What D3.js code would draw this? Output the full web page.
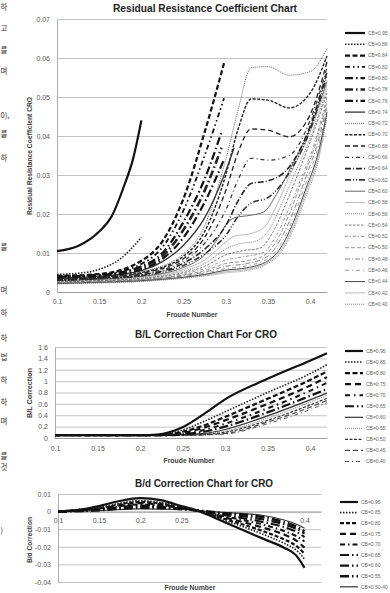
<!DOCTYPE html>
<html>
<head>
<meta charset="utf-8">
<script src="https://cdn.jsdelivr.net/npm/d3@7/dist/d3.min.js"></script>
<style>
  body { margin: 0; background: #fff; }
  svg { display: block; font-family: "Liberation Sans", Arial, sans-serif; }
</style>
</head>
<body>
<svg id="charts" width="390" height="593"></svg>
<script>
// ---------- Residual resistance coefficient (CRO) ----------
let rrcXTicks = [0.1, 0.15, 0.2, 0.25, 0.3, 0.35, 0.4]
let rrcYTicks = [0, 0.01, 0.02, 0.03, 0.04, 0.05, 0.06, 0.07]
let rrcLabels = ["CB=0.95", "CB=0.86", "CB=0.84", "CB=0.82", "CB=0.80", "CB=0.78", "CB=0.76", "CB=0.74",
  "CB=0.72", "CB=0.70", "CB=0.68", "CB=0.66", "CB=0.64", "CB=0.62", "CB=0.60", "CB=0.58", "CB=0.56",
  "CB=0.54", "CB=0.52", "CB=0.50", "CB=0.48", "CB=0.46", "CB=0.44", "CB=0.42", "CB=0.40"]

let rrc095 = [[0.1,0.0105],[0.125,0.0118],[0.15,0.0155],[0.165,0.0195],[0.18,0.0275],[0.19,0.034],[0.2,0.044]]
let rrc086 = [[0.1,0.0045],[0.125,0.0048],[0.15,0.0058],[0.175,0.0085],[0.2,0.014]]
let rrc084 = [[0.1,0.0041],[0.15,0.0046],[0.2,0.008],[0.225,0.013],[0.25,0.024],[0.275,0.041],[0.298,0.0587]]
let rrc082 = [[0.1,0.004],[0.15,0.0044],[0.2,0.0072],[0.225,0.0115],[0.25,0.021],[0.275,0.035],[0.298,0.0497]]
let rrc080 = [[0.1,0.0039],[0.15,0.0043],[0.2,0.0066],[0.225,0.010],[0.25,0.018],[0.275,0.029],[0.295,0.041]]
let rrc078 = [[0.1,0.0038],[0.15,0.0042],[0.2,0.0062],[0.225,0.0092],[0.25,0.016],[0.275,0.026],[0.295,0.037]]
let rrc076 = [[0.1,0.0037],[0.15,0.0041],[0.2,0.0058],[0.225,0.0085],[0.25,0.014],[0.275,0.023],[0.298,0.034]]
let rrc074 = [[0.1,0.0036],[0.15,0.004],[0.2,0.0055],[0.225,0.0078],[0.25,0.012],[0.275,0.019],[0.3,0.031],[0.31,0.037]]
let rrc072 = [[0.1,0.0035],[0.15,0.0039],[0.2,0.0052],[0.25,0.0098],[0.275,0.017],[0.3,0.034],[0.315,0.047],[0.33,0.0575],[0.35,0.0578],[0.375,0.0556],[0.4,0.0565],[0.42,0.0625]]
let rrc070 = [[0.1,0.0034],[0.15,0.0038],[0.2,0.005],[0.25,0.0092],[0.275,0.0155],[0.3,0.030],[0.315,0.042],[0.33,0.0495],[0.35,0.0492],[0.375,0.0472],[0.4,0.051],[0.42,0.0605]]
let rrc068 = [[0.1,0.0033],[0.15,0.0037],[0.2,0.0048],[0.25,0.0086],[0.275,0.014],[0.3,0.026],[0.315,0.036],[0.33,0.0418],[0.35,0.0415],[0.375,0.0398],[0.4,0.0455],[0.42,0.059]]
let rrc066 = [[0.1,0.0032],[0.15,0.0036],[0.2,0.0046],[0.25,0.008],[0.275,0.0125],[0.3,0.021],[0.315,0.029],[0.33,0.0343],[0.35,0.0338],[0.375,0.035],[0.4,0.044],[0.42,0.0575]]
let rrc064 = [[0.1,0.0031],[0.15,0.0035],[0.2,0.0044],[0.25,0.0074],[0.275,0.011],[0.3,0.017],[0.315,0.0235],[0.33,0.0278],[0.35,0.0285],[0.375,0.032],[0.4,0.0425],[0.42,0.0565]]
let rrc062 = [[0.1,0.003],[0.15,0.0034],[0.2,0.0042],[0.25,0.0068],[0.275,0.0098],[0.3,0.0145],[0.315,0.0195],[0.33,0.0228],[0.35,0.0242],[0.375,0.0305],[0.4,0.0415],[0.42,0.0555]]
let rrc060 = [[0.1,0.0029],[0.15,0.0033],[0.2,0.004],[0.25,0.0063],[0.275,0.0095],[0.29,0.0135],[0.3,0.0172],[0.31,0.019],[0.33,0.0197],[0.345,0.0205],[0.36,0.025],[0.375,0.031],[0.4,0.042],[0.42,0.054]]
let rrc058 = [[0.1,0.0028],[0.15,0.0032],[0.2,0.0038],[0.25,0.0058],[0.275,0.0082],[0.3,0.0128],[0.31,0.0143],[0.33,0.015],[0.345,0.0165],[0.36,0.022],[0.375,0.0295],[0.4,0.041],[0.42,0.053]]
let rrc056 = [[0.1,0.0027],[0.15,0.0031],[0.2,0.0036],[0.25,0.0054],[0.275,0.0073],[0.3,0.011],[0.315,0.0123],[0.335,0.013],[0.35,0.0155],[0.365,0.022],[0.38,0.0295],[0.4,0.0395],[0.42,0.052]]
let rrc054 = [[0.1,0.0026],[0.15,0.003],[0.2,0.0035],[0.25,0.005],[0.275,0.0066],[0.3,0.0095],[0.32,0.0106],[0.34,0.0112],[0.355,0.015],[0.37,0.022],[0.385,0.030],[0.4,0.0385],[0.42,0.051]]
let rrc052 = [[0.1,0.0025],[0.15,0.0029],[0.2,0.0033],[0.25,0.0047],[0.275,0.006],[0.3,0.0082],[0.32,0.009],[0.345,0.0102],[0.36,0.0145],[0.375,0.0215],[0.39,0.0295],[0.405,0.038],[0.42,0.050]]
let rrc050 = [[0.1,0.0024],[0.15,0.0028],[0.2,0.0032],[0.25,0.0044],[0.275,0.0055],[0.3,0.0073],[0.325,0.008],[0.345,0.0093],[0.36,0.013],[0.375,0.0198],[0.39,0.0285],[0.405,0.037],[0.42,0.049]]
let rrc048 = [[0.1,0.0023],[0.15,0.0027],[0.2,0.0031],[0.25,0.0042],[0.275,0.0051],[0.3,0.0066],[0.325,0.0073],[0.35,0.0092],[0.365,0.0135],[0.38,0.0205],[0.395,0.0295],[0.41,0.039],[0.42,0.048]]
let rrc046 = [[0.1,0.0023],[0.15,0.0026],[0.2,0.003],[0.25,0.004],[0.275,0.0048],[0.3,0.006],[0.325,0.0067],[0.35,0.0086],[0.365,0.0122],[0.38,0.019],[0.395,0.028],[0.41,0.0375],[0.42,0.047]]
let rrc044 = [[0.1,0.0022],[0.15,0.0025],[0.2,0.0029],[0.25,0.0038],[0.275,0.0045],[0.3,0.0056],[0.325,0.0062],[0.35,0.008],[0.365,0.0113],[0.38,0.0178],[0.395,0.0265],[0.41,0.036],[0.42,0.0462]]
let rrc042 = [[0.1,0.0022],[0.15,0.0024],[0.2,0.0028],[0.25,0.0037],[0.275,0.0043],[0.3,0.0052],[0.325,0.0058],[0.35,0.0076],[0.365,0.0106],[0.38,0.0168],[0.395,0.0255],[0.41,0.035],[0.42,0.0455]]
let rrc040 = [[0.1,0.0021],[0.15,0.0023],[0.2,0.0027],[0.25,0.0035],[0.275,0.0041],[0.3,0.0049],[0.325,0.0055],[0.35,0.0073],[0.365,0.010],[0.38,0.016],[0.395,0.0245],[0.41,0.034],[0.42,0.045]]

let rrcValues = [rrc095, rrc086, rrc084, rrc082, rrc080, rrc078, rrc076, rrc074, rrc072, rrc070, rrc068,
  rrc066, rrc064, rrc062, rrc060, rrc058, rrc056, rrc054, rrc052, rrc050, rrc048, rrc046, rrc044, rrc042, rrc040]

// ---------- B/L correction ----------
let blXTicks = [0.1, 0.15, 0.2, 0.25, 0.3, 0.35, 0.4]
let blYTicks = [0, 0.2, 0.4, 0.6, 0.8, 1, 1.2, 1.4, 1.6]
let blLabels = ["CB=0.95", "CB=0.85", "CB=0.80", "CB=0.75", "CB=0.70", "CB=0.65", "CB=0.60", "CB=0.55", "CB=0.50", "CB=0.45", "CB=0.40"]

let bl095 = [[0.1,0.05],[0.2,0.05],[0.22,0.06],[0.25,0.19],[0.275,0.42],[0.3,0.68],[0.35,1.04],[0.4,1.36],[0.42,1.49]]
let bl085 = [[0.1,0.05],[0.22,0.05],[0.25,0.14],[0.275,0.29],[0.3,0.46],[0.35,0.8],[0.4,1.13],[0.42,1.29]]
let bl080 = [[0.1,0.05],[0.22,0.05],[0.25,0.11],[0.275,0.22],[0.3,0.37],[0.35,0.69],[0.4,1.02],[0.42,1.17]]
let bl075 = [[0.1,0.05],[0.225,0.05],[0.25,0.09],[0.275,0.18],[0.3,0.31],[0.35,0.6],[0.4,0.92],[0.42,1.07]]
let bl070 = [[0.1,0.05],[0.23,0.05],[0.25,0.075],[0.275,0.14],[0.3,0.25],[0.35,0.52],[0.4,0.83],[0.42,0.97]]
let bl065 = [[0.1,0.05],[0.235,0.05],[0.25,0.065],[0.275,0.11],[0.3,0.2],[0.35,0.45],[0.4,0.74],[0.42,0.86]]
let bl060 = [[0.1,0.05],[0.24,0.05],[0.275,0.08],[0.3,0.15],[0.35,0.39],[0.4,0.67],[0.42,0.79]]
let bl055 = [[0.1,0.05],[0.245,0.05],[0.275,0.07],[0.3,0.12],[0.35,0.35],[0.4,0.63],[0.42,0.75]]
let bl050 = [[0.1,0.05],[0.25,0.05],[0.275,0.06],[0.3,0.1],[0.35,0.31],[0.4,0.58],[0.42,0.7]]
let bl045 = [[0.1,0.05],[0.255,0.05],[0.3,0.08],[0.35,0.28],[0.4,0.54],[0.42,0.66]]
let bl040 = [[0.1,0.05],[0.26,0.05],[0.3,0.07],[0.35,0.25],[0.4,0.5],[0.42,0.62]]

let blValues = [bl095, bl085, bl080, bl075, bl070, bl065, bl060, bl055, bl050, bl045, bl040]

// ---------- B/d correction ----------
let bdXTicks = [0.1, 0.15, 0.2, 0.25, 0.4]
let bdYTicks = [-0.04, -0.03, -0.02, -0.01, 0, 0.01]
let bdLabels = ["CB=0.95", "CB=0.85", "CB=0.80", "CB=0.75", "CB=0.70", "CB=0.65", "CB=0.60", "CB=0.55", "CB=0.50-40"]

let bd095 = [[0.1,0],[0.125,0.001],[0.15,0.0032],[0.175,0.006],[0.2,0.0076],[0.225,0.0065],[0.25,0.0032],[0.27,0.0005],[0.3,-0.0055],[0.35,-0.0155],[0.375,-0.0205],[0.39,-0.025],[0.4,-0.032]]
let bd085 = [[0.1,0],[0.15,0.0025],[0.2,0.0062],[0.25,0.0028],[0.27,0.0005],[0.3,-0.0045],[0.35,-0.013],[0.375,-0.018],[0.39,-0.022],[0.4,-0.027]]
let bd080 = [[0.1,0],[0.15,0.002],[0.2,0.0055],[0.25,0.0025],[0.27,0.0005],[0.3,-0.0038],[0.35,-0.0112],[0.375,-0.0158],[0.39,-0.0195],[0.4,-0.024]]
let bd075 = [[0.1,0],[0.15,0.0018],[0.2,0.0048],[0.25,0.0022],[0.27,0.0005],[0.3,-0.003],[0.35,-0.0092],[0.375,-0.013],[0.39,-0.0165],[0.4,-0.0205]]
let bd070 = [[0.1,0],[0.15,0.0015],[0.2,0.004],[0.25,0.002],[0.27,0.0005],[0.3,-0.0024],[0.35,-0.0075],[0.375,-0.011],[0.39,-0.014],[0.4,-0.017]]
let bd065 = [[0.1,0],[0.15,0.0012],[0.2,0.0034],[0.25,0.0018],[0.27,0.0005],[0.3,-0.0018],[0.35,-0.006],[0.375,-0.0088],[0.39,-0.0115],[0.4,-0.0145]]
let bd060 = [[0.1,0],[0.15,0.001],[0.2,0.0028],[0.25,0.0016],[0.27,0.0005],[0.3,-0.0013],[0.35,-0.0045],[0.375,-0.0072],[0.39,-0.0098],[0.4,-0.0125]]
let bd055 = [[0.1,0],[0.15,0.0008],[0.2,0.0022],[0.25,0.0014],[0.27,0.0006],[0.3,-0.0008],[0.35,-0.0032],[0.375,-0.006],[0.39,-0.0085],[0.4,-0.0112]]
let bd050 = [[0.1,0],[0.15,0.0006],[0.2,0.0016],[0.25,0.0012],[0.27,0.0006],[0.3,-0.0004],[0.35,-0.0022],[0.375,-0.0048],[0.39,-0.0072],[0.4,-0.0095]]

let bdValues = [bd095, bd085, bd080, bd075, bd070, bd065, bd060, bd055, bd050]

// line styles (width, dash, colour) for each series, legend order
let rrcStyles = [
  [2.2, null, "#111"], [1.6, "1.5,1.5", "#222"], [2.2, "5,2.5", "#111"], [1.8, "5,3,1.5,3,1.5,3", "#111"],
  [2.2, "8,3,1.5,3", "#111"], [2.6, "8,3,1.5,3", "#222"], [2.2, "8,3,1.5,3", "#111"], [1.3, null, "#333"],
  [0.9, "1,1", "#555"], [1.4, "3,1.5", "#222"], [1.3, "5,3", "#222"], [1.2, "4,3,1,3", "#333"],
  [1.6, "6,2,1,2", "#222"], [1.6, "6,2,1,2,1,2", "#333"], [0.9, null, "#555"], [0.8, null, "#aaa"],
  [0.8, "1,1", "#666"], [0.8, "2.5,1.5", "#555"], [0.8, "3,2,1,2", "#777"], [0.8, "4,2", "#777"],
  [0.8, "5,2,1,2", "#666"], [0.8, "4,3,1,3", "#888"], [1, null, "#444"], [0.6, null, "#888"], [0.7, "1,1", "#555"]]

let blStyles = [
  [2.2, null, "#111"], [1.6, "1.5,1.5", "#222"], [2.2, "5,2.5", "#111"], [2.2, "6,4", "#111"],
  [2, "5,4,1.5,4", "#111"], [2.2, "9,3,1.5,3", "#111"], [1.2, null, "#333"], [0.8, "1,1", "#555"],
  [1.2, "3,1.5", "#333"], [1.2, "5,3", "#444"], [1, "4,3,1,3", "#555"]]

let bdStyles = [
  [2.2, null, "#111"], [1.6, "1.5,1.5", "#222"], [2.2, "4,2", "#111"], [2.2, "6,4", "#111"],
  [2, "5,3,1.5,3", "#111"], [2, "9,3,1.5,3", "#111"], [2.2, "9,3,1.5,3", "#111"], [2.6, "9,3,1.5,3", "#111"],
  [1.2, null, "#333"]]

let svg = d3.select("#charts")

svg.append("rect")
  .attr("width", 390)
  .attr("height", 593)
  .style("fill", "#fff")

// scraps of the surrounding document text along the left margin
let sideText = [[10,"하"],[31,"고"],[53,"를"],[74,"며"],[118,"0),"],[137,"를"],[161,"하"],[250,"를"],[293,"며"],[316,"하"],[341,"하"],[360,"법"],[383,"하"],[405,"하"],[424,"며"],[459,"를"],[470,"것"],[533,")"]]
svg.append("g")
  .selectAll("text")
  .data(sideText)
  .join("text")
  .attr("x", 0.5)
  .attr("y", d => d[0])
  .style("font-family", "'Noto Sans CJK KR', sans-serif")
  .style("font-size", "7.5px")
  .style("fill", "#333")
  .text(d => d[1])

function drawChart(opt) {
  let g = svg.append("g")

  let x = d3.scaleLinear()
    .domain([0.1, 0.42])
    .range([opt.left, opt.right])

  let y = d3.scaleLinear()
    .domain(opt.yDomain)
    .range([opt.bottom, opt.top])

  let yAxisSettings = d3.axisLeft(y)
    .tickValues(opt.yTicks)
    .tickSize(-(opt.right - opt.left))
    .tickSizeOuter(0)
    .tickPadding(7)
    .tickFormat(d => String(d))

  let yAxisTicks = g.append("g")
    .attr("transform", `translate(${opt.left},0)`)
    .call(yAxisSettings)

  yAxisTicks.selectAll(".tick line")
    .style("stroke", "#b3b3b3")
    .style("stroke-width", "0.8px")
  yAxisTicks.select(".domain")
    .style("stroke", "#999")
    .style("stroke-width", "0.8px")
  yAxisTicks.selectAll("text")
    .style("font-size", "7px")
    .style("fill", "#595959")
    .style("font-family", "'Liberation Sans', Arial, sans-serif")

  let xAxisSettings = d3.axisBottom(x)
    .tickValues(opt.xTicks)
    .tickSize(0)
    .tickSizeOuter(0)
    .tickPadding(opt.xPad)
    .tickFormat(d => String(d))

  let xAxisTicks = g.append("g")
    .attr("transform", `translate(0,${y(opt.xAxisAt)})`)
    .call(xAxisSettings)

  xAxisTicks.select(".domain")
    .style("stroke", "#999")
    .style("stroke-width", "0.9px")
  xAxisTicks.selectAll("text")
    .style("font-size", "7px")
    .style("fill", "#595959")
    .style("font-family", "'Liberation Sans', Arial, sans-serif")

  let line = d3.line()
    .x(d => x(d[0]))
    .y(d => y(d[1]))
    .curve(d3.curveMonotoneX)

  // series, drawn last series first so the heavy ones sit on top
  let series = opt.values.map((v, i) => ({ pts: v, st: opt.styles[i], i: i }))
  g.append("g")
    .selectAll("path")
    .data(series.slice().reverse())
    .join("path")
    .attr("d", d => line(d.pts))
    .style("fill", "none")
    .style("stroke", d => d.st[2])
    .style("stroke-width", d => d.st[0] + "px")
    .style("stroke-dasharray", d => d.st[1])

  // legend
  let legend = g.append("g")
    .selectAll("g")
    .data(series)
    .join("g")
    .attr("transform", d => `translate(${opt.legX},${opt.legY + d.i * opt.legStep})`)

  legend.append("line")
    .attr("x1", 0)
    .attr("x2", opt.legLen)
    .style("stroke", d => d.st[2])
    .style("stroke-width", d => d.st[0] + "px")
    .style("stroke-dasharray", d => d.st[1])

  legend.append("text")
    .attr("x", opt.legLen + 3)
    .attr("dy", "0.35em")
    .style("font-size", "5px")
    .style("fill", "#666")
    .text(d => opt.labels[d.i])

  // titles
  g.append("text")
    .attr("text-anchor", "middle")
    .attr("x", opt.titleX)
    .attr("y", opt.titleY)
    .attr("textLength", opt.titleLen)
    .attr("lengthAdjust", "spacingAndGlyphs")
    .style("font-size", "10.5px")
    .style("font-weight", "bold")
    .style("fill", "#222")
    .text(opt.title)

  g.append("text")
    .attr("text-anchor", "middle")
    .attr("x", opt.xTitleX)
    .attr("y", opt.xTitleY)
    .attr("textLength", 51)
    .attr("lengthAdjust", "spacingAndGlyphs")
    .style("font-size", "7px")
    .style("font-weight", "bold")
    .style("fill", "#404040")
    .text("Froude Number")

  g.append("text")
    .attr("text-anchor", "middle")
    .attr("transform", `translate(32,${opt.yTitleY}) rotate(-90)`)
    .attr("textLength", opt.yTitleLen)
    .attr("lengthAdjust", "spacingAndGlyphs")
    .style("font-size", "6.5px")
    .style("font-weight", "bold")
    .style("fill", "#404040")
    .text(opt.yTitle)
}

drawChart({
  left: 57, right: 327, top: 19, bottom: 292,
  yDomain: [0, 0.07], yTicks: rrcYTicks, xTicks: rrcXTicks, xAxisAt: 0, xPad: 7,
  values: rrcValues, styles: rrcStyles, labels: rrcLabels,
  legX: 345, legY: 33, legStep: 11.3, legLen: 20,
  title: "Residual Resistance Coefficient Chart", titleX: 205, titleY: 12, titleLen: 184,
  xTitleX: 192, xTitleY: 317,
  yTitle: "Residual Resistance  Coefficient  CRO", yTitleY: 156, yTitleLen: 118
})

drawChart({
  left: 55, right: 327, top: 347, bottom: 438,
  yDomain: [0, 1.6], yTicks: blYTicks, xTicks: blXTicks, xAxisAt: 0, xPad: 8,
  values: blValues, styles: blStyles, labels: blLabels,
  legX: 345, legY: 351, legStep: 11.05, legLen: 18,
  title: "B/L Correction Chart For CRO", titleX: 206, titleY: 338, titleLen: 142,
  xTitleX: 189, xTitleY: 463,
  yTitle: "B/L Correction", yTitleY: 393, yTitleLen: 50
})

drawChart({
  left: 58, right: 321, top: 494, bottom: 582,
  yDomain: [-0.04, 0.01], yTicks: bdYTicks, xTicks: bdXTicks, xAxisAt: 0, xPad: 6,
  values: bdValues, styles: bdStyles, labels: bdLabels,
  legX: 340, legY: 502, legStep: 10.6, legLen: 18,
  title: "B/d Correction Chart for CRO", titleX: 204, titleY: 487, titleLen: 138,
  xTitleX: 190, xTitleY: 590,
  yTitle: "B/d Correction", yTitleY: 540, yTitleLen: 46
})
</script>
</body>
</html>
